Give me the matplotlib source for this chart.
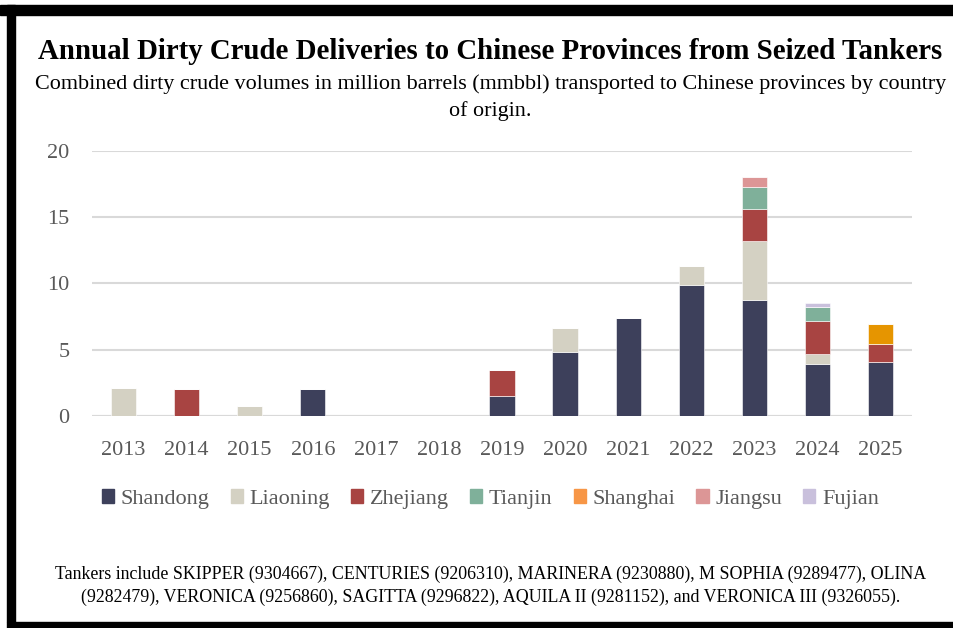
import numpy as np
import matplotlib
matplotlib.use("Agg")
import matplotlib.pyplot as plt
from matplotlib.patches import Patch, Rectangle

plt.rcParams['font.family'] = ['Liberation Serif', 'DejaVu Serif']

years = [str(y) for y in range(2013, 2026)]
shandong = [0, 0, 0, 2.05, 0, 0, 1.5, 4.8, 7.4, 9.9, 8.75, 3.95, 4.1]
liaoning = [2.1, 0, 0.75, 0, 0, 0, 0, 1.85, 0, 1.45, 4.45, 0.7, 0]
zhejiang = [0, 2.05, 0, 0, 0, 0, 1.95, 0, 0, 0, 2.4, 2.55, 1.35]
tianjin = [0, 0, 0, 0, 0, 0, 0, 0, 0, 0, 1.7, 1.0, 0]
shanghai = [0, 0, 0, 0, 0, 0, 0, 0, 0, 0, 0, 0, 1.5]
jiangsu = [0, 0, 0, 0, 0, 0, 0, 0, 0, 0, 0.75, 0, 0]
fujian = [0, 0, 0, 0, 0, 0, 0, 0, 0, 0, 0, 0.3, 0]

series = [
    ("Shandong", shandong, "#3d405b", "#3d405b"),
    ("Liaoning", liaoning, "#d4d1c3", "#d4d1c3"),
    ("Zhejiang", zhejiang, "#a84442", "#a84442"),
    ("Tianjin", tianjin, "#7fb09a", "#7fb09a"),
    ("Shanghai", shanghai, "#e69500", "#f79646"),
    ("Jiangsu", jiangsu, "#dc9696", "#dc9696"),
    ("Fujian", fujian, "#c9c0dc", "#c9c0dc"),
]

fig = plt.figure(figsize=(9.54, 6.28), dpi=100)
ax = fig.add_axes([0.0964, 0.3376, 0.8596, 0.422])

x = np.arange(len(years))
bottom = np.zeros(len(years))
for name, vals, col, _ in series:
    v = np.array(vals, dtype=float)
    ax.bar(x, v, 0.4, bottom=bottom, color=col, edgecolor="white", linewidth=0.4, zorder=3)
    bottom += v

ax.set_xlim(-0.5, len(years) - 0.5)
ax.set_ylim(0, 20)
ax.set_yticks([0, 5, 10, 15, 20])
ax.set_xticks(x)
ax.set_xticklabels(years)
ax.grid(axis="y", color="#d9d9d9", linewidth=1.5, zorder=0)
for s in ax.spines.values():
    s.set_visible(False)
ax.tick_params(length=0, labelsize=16, colors="#595959")
ax.tick_params(axis="x", pad=18)
ax.tick_params(axis="y", pad=16)
ax.axhline(0, color="#d9d9d9", linewidth=1.5, zorder=2)

handles = [Patch(color=lc, label=n) for n, _, _, lc in series]
fig.legend(handles=handles, loc="center", bbox_to_anchor=(0.514, 0.205), ncol=7,
           frameon=False, fontsize=16, labelcolor="#595959",
           handlelength=0.55, handleheight=0.55, handletextpad=0.3, columnspacing=0.95)

fig.text(0.514, 0.918, "Annual Dirty Crude Deliveries to Chinese Provinces from Seized Tankers",
         ha="center", va="center", fontsize=20.8, fontweight="bold", color="black")
fig.text(0.514, 0.845, "Combined dirty crude volumes in million barrels (mmbbl) transported to Chinese provinces by country\nof origin.",
         ha="center", va="center", fontsize=15.9, color="black", linespacing=1.5)
fig.text(0.514, 0.067, "Tankers include SKIPPER (9304667), CENTURIES (9206310), MARINERA (9230880), M SOPHIA (9289477), OLINA\n(9282479), VERONICA (9256860), SAGITTA (9296822), AQUILA II (9281152), and VERONICA III (9326055).",
         ha="center", va="center", fontsize=12.9, color="black", linespacing=1.45)

# frame
fig.patches.append(Rectangle((0, 1 - 15 / 628), 1, 10 / 628, transform=fig.transFigure, color="black"))
fig.patches.append(Rectangle((7 / 954, 6 / 628), 8 / 954, 1 - 11 / 628, transform=fig.transFigure, color="black"))
fig.patches.append(Rectangle((7 / 954, 0), 1, 6 / 628, transform=fig.transFigure, color="black"))

fig.savefig("out.png", dpi=100)
